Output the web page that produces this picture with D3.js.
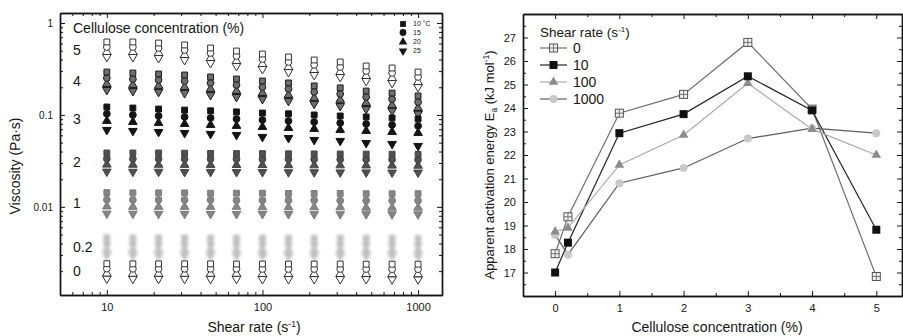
<!DOCTYPE html>
<html>
<head>
<meta charset="utf-8">
<script src="https://cdn.jsdelivr.net/npm/d3@7"></script>
<style>
  html, body { margin: 0; padding: 0; background: #fff; }
  svg { display: block; font-family: "Liberation Sans", Arial, sans-serif; }
</style>
</head>
<body>
<svg id="fig" width="903" height="336"></svg>
<script>
// ---------- Left panel data: viscosity (Pa·s) vs shear rate (1/s) ----------
const shearRates = [10, 14.7, 21.5, 31.6, 46.4, 68.1, 100, 147, 215, 316, 464, 681, 1000];
const tempLabels = ["10 °C", "15", "20", "25"];
const concLabels = ["5", "4", "3", "2", "1", "0.2", "0"];

// one row per temperature: 10, 15, 20, 25 °C
const visc5 = [
  [0.622, 0.622, 0.606, 0.577, 0.535, 0.496, 0.460, 0.427, 0.396, 0.377, 0.341, 0.324, 0.293],
  [0.548, 0.548, 0.535, 0.509, 0.472, 0.438, 0.406, 0.377, 0.350, 0.332, 0.301, 0.286, 0.259],
  [0.484, 0.484, 0.472, 0.449, 0.416, 0.386, 0.358, 0.332, 0.308, 0.293, 0.265, 0.252, 0.228],
  [0.427, 0.427, 0.416, 0.396, 0.367, 0.341, 0.316, 0.293, 0.272, 0.259, 0.234, 0.223, 0.201]
];
const visc4 = [
  [0.293, 0.286, 0.279, 0.272, 0.259, 0.246, 0.234, 0.223, 0.207, 0.197, 0.182, 0.173, 0.161],
  [0.252, 0.246, 0.240, 0.234, 0.223, 0.212, 0.201, 0.192, 0.178, 0.169, 0.157, 0.149, 0.138],
  [0.217, 0.212, 0.207, 0.201, 0.192, 0.182, 0.173, 0.165, 0.153, 0.146, 0.135, 0.128, 0.119],
  [0.187, 0.182, 0.178, 0.173, 0.165, 0.157, 0.149, 0.142, 0.132, 0.125, 0.116, 0.111, 0.103]
];
const visc3 = [
  [0.122, 0.119, 0.116, 0.113, 0.111, 0.108, 0.105, 0.103, 0.100, 0.0975, 0.0951, 0.0928, 0.0905],
  [0.103, 0.100, 0.0975, 0.0951, 0.0928, 0.0905, 0.0882, 0.0861, 0.0839, 0.0818, 0.0798, 0.0779, 0.0760],
  [0.0861, 0.0839, 0.0818, 0.0798, 0.0779, 0.0760, 0.0741, 0.0722, 0.0705, 0.0687, 0.0670, 0.0653, 0.0637],
  [0.0687, 0.0670, 0.0653, 0.0637, 0.0622, 0.0606, 0.0577, 0.0562, 0.0535, 0.0522, 0.0496, 0.0484, 0.0460]
];
const visc2 = [
  [0.0386, 0.0386, 0.0386, 0.0384, 0.0382, 0.0380, 0.0380, 0.0378, 0.0377, 0.0376, 0.0375, 0.0374, 0.0372],
  [0.0334, 0.0333, 0.0333, 0.0332, 0.0332, 0.0331, 0.0330, 0.0330, 0.0329, 0.0328, 0.0328, 0.0327, 0.0326],
  [0.0288, 0.0287, 0.0287, 0.0286, 0.0286, 0.0285, 0.0285, 0.0284, 0.0283, 0.0283, 0.0282, 0.0281, 0.0280],
  [0.0242, 0.0241, 0.0241, 0.0240, 0.0240, 0.0239, 0.0239, 0.0238, 0.0238, 0.0237, 0.0237, 0.0236, 0.0236]
];
const visc1 = [
  [0.0143, 0.0142, 0.0142, 0.0142, 0.0141, 0.0141, 0.0141, 0.0140, 0.0140, 0.0140, 0.0139, 0.0139, 0.0139],
  [0.0120, 0.0119, 0.0119, 0.0119, 0.0119, 0.0118, 0.0118, 0.0118, 0.0118, 0.0117, 0.0117, 0.0117, 0.0117],
  [0.0101, 0.0100, 0.0100, 0.0100, 0.0100, 0.0100, 0.0099, 0.0099, 0.0099, 0.0099, 0.0098, 0.0098, 0.0098],
  [0.00845, 0.00842, 0.00840, 0.00840, 0.00838, 0.00837, 0.00836, 0.00835, 0.00834, 0.00833, 0.00832, 0.00831, 0.00830]
];
const visc02 = [
  [0.00462, 0.00460, 0.00460, 0.00459, 0.00459, 0.00458, 0.00458, 0.00457, 0.00457, 0.00456, 0.00456, 0.00455, 0.00455],
  [0.00398, 0.00397, 0.00396, 0.00396, 0.00395, 0.00395, 0.00395, 0.00394, 0.00394, 0.00393, 0.00393, 0.00392, 0.00392],
  [0.00343, 0.00342, 0.00342, 0.00341, 0.00341, 0.00341, 0.00340, 0.00340, 0.00340, 0.00339, 0.00339, 0.00339, 0.00338],
  [0.00295, 0.00294, 0.00294, 0.00293, 0.00293, 0.00293, 0.00292, 0.00292, 0.00292, 0.00291, 0.00291, 0.00291, 0.00290]
];
const visc0 = [
  [0.00241, 0.00240, 0.00240, 0.00240, 0.00240, 0.00239, 0.00239, 0.00239, 0.00239, 0.00239, 0.00238, 0.00238, 0.00238],
  [0.00213, 0.00212, 0.00212, 0.00212, 0.00212, 0.00212, 0.00211, 0.00211, 0.00211, 0.00211, 0.00211, 0.00210, 0.00210],
  [0.00188, 0.00187, 0.00187, 0.00187, 0.00187, 0.00187, 0.00186, 0.00186, 0.00186, 0.00186, 0.00186, 0.00185, 0.00185],
  [0.00166, 0.00165, 0.00165, 0.00165, 0.00165, 0.00165, 0.00164, 0.00164, 0.00164, 0.00164, 0.00164, 0.00163, 0.00163]
];
const viscByConc = [visc5, visc4, visc3, visc2, visc1, visc02, visc0];

// ---------- Right panel data: apparent activation energy (kJ/mol) ----------
const celluloseConc = [0, 0.2, 1, 2, 3, 4, 5];
const shearLabels = ["0", "10", "100", "1000"];
const ea0    = [17.8, 19.37, 23.78, 24.58, 26.79, 23.95, 16.83];
const ea10   = [17.0, 18.27, 22.93, 23.74, 25.35, 23.9, 18.82];
const ea100  = [18.74, 18.9, 21.58, 22.85, 25.05, 23.1, 22.0];
const ea1000 = [18.6, 17.76, 20.8, 21.45, 22.7, 23.14, 22.93];
const eaSeries = [ea0, ea10, ea100, ea1000];

// ---------- shared helpers ----------
const svg = d3.select("#fig");
const ink = "#161616";

svg.append("defs").append("filter").attr("id", "smear")
  .attr("x", "-50%").attr("y", "-50%").attr("width", "200%").attr("height", "200%")
  .append("feGaussianBlur").attr("stdDeviation", 1.6);

function logMinors(lo, hi) {
  const out = [];
  for (let e = -4; e <= 4; e++) {
    for (let m = 2; m <= 9; m++) {
      const v = m * Math.pow(10, e);
      if (v > lo && v < hi) out.push(v);
    }
  }
  return out;
}

// Four-sided frame with inward ticks (major + minor) on every side
function drawFrame(x, y, o) {
  const [x0, x1] = x.range();
  const [yb, yt] = y.range();
  const g = svg.append("g");
  const put = (axis, tx, ty) => g.append("g").attr("transform", `translate(${tx},${ty})`).call(axis);
  const style = sel => {
    sel.selectAll("path.domain").attr("stroke", ink).attr("stroke-width", 1.4);
    sel.selectAll(".tick line").attr("stroke", ink).attr("stroke-width", 1);
  };
  const b = put(d3.axisBottom(x).tickValues(o.xMajor).tickFormat(o.xFmt).tickSize(-5).tickSizeOuter(0).tickPadding(o.xPad), 0, yb);
  b.selectAll("text").attr("font-size", o.xFont).attr("fill", ink);
  put(d3.axisBottom(x).tickValues(o.xMinor).tickFormat("").tickSize(-3).tickSizeOuter(0), 0, yb);
  put(d3.axisTop(x).tickValues(o.xMajor).tickFormat("").tickSize(-5).tickSizeOuter(0), 0, yt);
  put(d3.axisTop(x).tickValues(o.xMinor).tickFormat("").tickSize(-3).tickSizeOuter(0), 0, yt);
  const l = put(d3.axisLeft(y).tickValues(o.yMajor).tickFormat(o.yFmt).tickSize(-5).tickSizeOuter(0).tickPadding(o.yPad), x0, 0);
  l.selectAll("text").attr("font-size", o.yFont).attr("fill", ink);
  put(d3.axisLeft(y).tickValues(o.yMinor).tickFormat("").tickSize(-3).tickSizeOuter(0), x0, 0);
  put(d3.axisRight(y).tickValues(o.yMajor).tickFormat("").tickSize(-5).tickSizeOuter(0), x1, 0);
  put(d3.axisRight(y).tickValues(o.yMinor).tickFormat("").tickSize(-3).tickSizeOuter(0), x1, 0);
  g.selectAll("g").call(style);
  g.selectAll("text").attr("font-family", "'Liberation Sans', Arial, sans-serif");
  return g;
}

const symSquare = d3.symbol().type(d3.symbolSquare).size(34)();
const symCircle = d3.symbol().type(d3.symbolCircle).size(36)();
const symTri = d3.symbol().type(d3.symbolTriangle).size(32)();
const tempShapes = [
  { d: symSquare, rot: 0 },
  { d: symCircle, rot: 0 },
  { d: symTri, rot: 0 },
  { d: symTri, rot: 180 }
];

// ================= LEFT PANEL =================
const xL = d3.scaleLog().domain([5, 1425]).range([60, 442]);
const yL = d3.scaleLog().domain([0.0011, 1.285]).range([295, 13]);

drawFrame(xL, yL, {
  xMajor: [10, 100, 1000], xMinor: logMinors(5, 1425), xFmt: d3.format("d"), xPad: 8, xFont: 11,
  yMajor: [0.01, 0.1, 1], yMinor: logMinors(0.0011, 1.285), yFmt: d => String(d), yPad: 7, yFont: 10
});

// marker style for each concentration group
const concStyles = [
  { fill: "#ffffff", stroke: "#333" },
  { fill: "#6e6e6e", stroke: "#1a1a1a" },
  { fill: "#141414", stroke: "#141414" },
  { fill: "#505050", stroke: "#444" },
  { fill: "#858585", stroke: "#7a7a7a" },
  { fill: "#bdbdbd", stroke: "#c4c4c4", blur: true },
  { fill: "#ffffff", stroke: "#333" }
];

const pts = svg.append("g");
viscByConc.forEach((rows, ci) => {
  const st = concStyles[ci];
  const grp = pts.append("g");
  if (st.blur) grp.attr("filter", "url(#smear)");
  // draw warmest first so the 10 °C square sits on top
  for (let ti = rows.length - 1; ti >= 0; ti--) {
    const sh = tempShapes[ti];
    grp.selectAll(null).data(rows[ti].map((v, i) => [shearRates[i], v])).join("path")
      .attr("d", sh.d)
      .attr("transform", d => `translate(${xL(d[0])},${yL(d[1])}) rotate(${sh.rot})`)
      .attr("fill", st.fill).attr("stroke", st.stroke).attr("stroke-width", 1);
  }
});

// concentration labels beside each group (placed at that group's 10 °C / 25 °C midpoint)
const labelG = svg.append("g").attr("font-size", 14).attr("fill", ink);
viscByConc.forEach((rows, ci) => {
  const mid = Math.sqrt(rows[0][0] * rows[3][0]);
  labelG.append("text").attr("x", 73).attr("y", yL(mid)).attr("dy", "0.36em").text(concLabels[ci]);
});
svg.append("text").attr("x", 73).attr("y", 33).attr("font-size", 14).attr("fill", ink)
  .text("Cellulose concentration (%)");

// temperature key
const keyL = svg.append("g");
const keyYs = [24, 32.5, 42, 51];
tempLabels.forEach((t, i) => {
  keyL.append("path").attr("d", tempShapes[i].d)
    .attr("transform", `translate(403,${keyYs[i]}) rotate(${tempShapes[i].rot})`)
    .attr("fill", ink);
  keyL.append("text").attr("x", 413).attr("y", keyYs[i]).attr("dy", "0.35em")
    .attr("font-size", 7).attr("fill", ink).text(t);
});

// axis titles
svg.append("text").attr("transform", "translate(20,166) rotate(-90)").attr("text-anchor", "middle")
  .attr("font-size", 14).attr("fill", ink).text("Viscosity (Pa·s)");
const shT = svg.append("text").attr("x", 254).attr("y", 332).attr("text-anchor", "middle")
  .attr("font-size", 14).attr("fill", ink);
shT.append("tspan").text("Shear rate (s");
shT.append("tspan").attr("font-size", 8.5).attr("dy", -5).text("-1");
shT.append("tspan").attr("dy", 5).text(")");

// ================= RIGHT PANEL =================
const xR = d3.scaleLinear().domain([-0.5, 5.4]).range([523, 902]);
const yR = d3.scaleLinear().domain([16, 28]).range([296, 14]);

drawFrame(xR, yR, {
  xMajor: [0, 1, 2, 3, 4, 5], xMinor: [0.5, 1.5, 2.5, 3.5, 4.5], xFmt: d3.format("d"), xPad: 8, xFont: 11,
  yMajor: d3.range(16, 29), yMinor: d3.range(16.5, 28, 1), yFmt: d => (d === 16 || d === 28) ? "" : d, yPad: 7, yFont: 11
});

const seriesStyles = [
  { line: "#707070", marker: "boxcross", fill: "#f2f2f2", stroke: "#555" },
  { line: "#242424", marker: "square", fill: "#111", stroke: "#111" },
  { line: "#ababab", marker: "triangle", fill: "#8c8c8c", stroke: "#8c8c8c" },
  { line: "#5c5c5c", marker: "circle", fill: "#c9c9c9", stroke: "#c9c9c9" }
];

function drawMarker(g, kind, cx, cy, st) {
  if (kind === "boxcross") {
    g.append("rect").attr("x", cx - 4).attr("y", cy - 4).attr("width", 8).attr("height", 8)
      .attr("fill", st.fill).attr("stroke", st.stroke).attr("stroke-width", 1);
    g.append("path").attr("d", `M${cx - 4},${cy}H${cx + 4}M${cx},${cy - 4}V${cy + 4}`)
      .attr("stroke", st.stroke).attr("stroke-width", 0.8);
  } else if (kind === "square") {
    g.append("rect").attr("x", cx - 4).attr("y", cy - 4).attr("width", 8).attr("height", 8)
      .attr("fill", st.fill);
  } else if (kind === "triangle") {
    g.append("path").attr("d", d3.symbol().type(d3.symbolTriangle).size(40)())
      .attr("transform", `translate(${cx},${cy})`).attr("fill", st.fill);
  } else {
    g.append("path").attr("d", d3.symbol().type(d3.symbolCircle).size(50)())
      .attr("transform", `translate(${cx},${cy})`).attr("fill", st.fill);
  }
}

const lineGen = d3.line().x(d => xR(d[0])).y(d => yR(d[1]));
const linesG = svg.append("g").attr("fill", "none");
eaSeries.forEach((vals, si) => {
  linesG.append("path").datum(vals.map((v, i) => [celluloseConc[i], v]))
    .attr("d", lineGen).attr("stroke", seriesStyles[si].line).attr("stroke-width", 1.2);
});
const markG = svg.append("g");
[3, 2, 0, 1].forEach(si => {
  eaSeries[si].forEach((v, i) => drawMarker(markG, seriesStyles[si].marker, xR(celluloseConc[i]), yR(v), seriesStyles[si]));
});

// shear-rate key
const keyR = svg.append("g");
const kt = keyR.append("text").attr("x", 540).attr("y", 37).attr("font-size", 13.5).attr("fill", ink);
kt.append("tspan").text("Shear rate (s");
kt.append("tspan").attr("font-size", 8).attr("dy", -5).text("-1");
kt.append("tspan").attr("dy", 5).text(")");
shearLabels.forEach((s, i) => {
  const yy = 48 + i * 17;
  const st = seriesStyles[i];
  keyR.append("path").attr("d", `M540,${yy}H567`).attr("stroke", st.line).attr("stroke-width", 1.2);
  drawMarker(keyR, st.marker, 553.5, yy, st);
  keyR.append("text").attr("x", 573).attr("y", yy).attr("dy", "0.36em")
    .attr("font-size", 14).attr("fill", ink).text(s);
});

// axis titles
const eaT = svg.append("text").attr("transform", "translate(494,165) rotate(-90)").attr("text-anchor", "middle")
  .attr("font-size", 13).attr("fill", ink);
eaT.append("tspan").text("Apparent activation energy E");
eaT.append("tspan").attr("font-size", 8.5).attr("dy", 3).text("a");
eaT.append("tspan").attr("dy", -3).text(" (kJ mol");
eaT.append("tspan").attr("font-size", 8.5).attr("dy", -5).text("-1");
eaT.append("tspan").attr("dy", 5).text(")");
svg.append("text").attr("x", 717).attr("y", 332).attr("text-anchor", "middle")
  .attr("font-size", 14).attr("fill", ink).text("Cellulose concentration (%)");
</script>
</body>
</html>
